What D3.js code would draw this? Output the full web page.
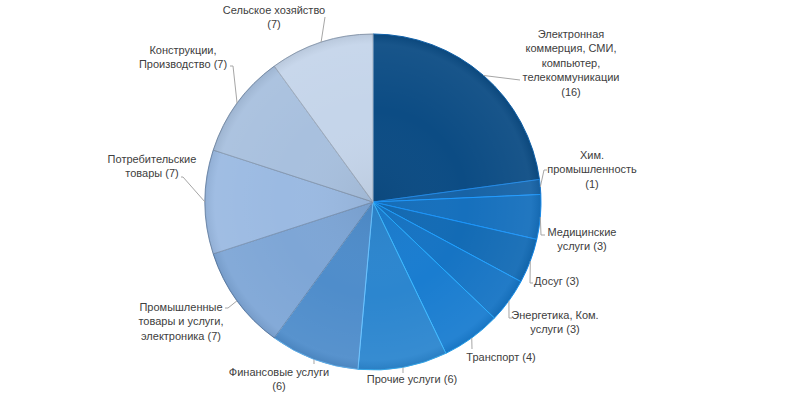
<!DOCTYPE html>
<html><head><meta charset="utf-8">
<script src="https://cdn.jsdelivr.net/npm/d3@7"></script>
<style>body{margin:0;background:#fff}svg{display:block}</style>
</head><body>
<svg id="chart" width="800" height="400"></svg>
<script>
// ---- data ----
const categories = ["Электронная коммерция, СМИ, компьютер, телекоммуникации","Хим. промышленность","Медицинские услуги","Досуг","Энергетика, Ком. услуги","Транспорт","Прочие услуги","Финансовые услуги","Промышленные товары и услуги, электроника","Потребительские товары","Конструкции, Производство","Сельское хозяйство"];
const values = [16,1,3,3,3,4,6,6,7,7,7,7];
// label line breaks; "" as last entry means the value goes on its own line
const labelBreaks = [
  ["Электронная","коммерция, СМИ,","компьютер,","телекоммуникации",""],
  ["Хим.","промышленность",""],
  ["Медицинские","услуги"],
  ["Досуг"],
  ["Энергетика, Ком.","услуги"],
  ["Транспорт"],
  ["Прочие услуги"],
  ["Финансовые услуги",""],
  ["Промышленные","товары и услуги,","электроника"],
  ["Потребительские","товары"],
  ["Конструкции,","Производство"],
  ["Сельское хозяйство",""]
];
const colors = ["#0c4c84","#1763a6","#1670bd","#136bb5","#1674c4","#1a7dd0","#2c86cf","#4f8dcb","#7ea6d6","#9bbae2","#a8c0de","#c5d5ea"];

// ---- layout (label anchors & leader elbows) ----
const layout = [
  {x:571,y:34, mid:[520,80], end:[520,80]},
  {x:592,y:155, mid:[544,170], end:[547,170]},
  {x:582,y:232, mid:[541,235], end:[545,235]},
  {x:534,y:281, anchor:"start", mid:[530,283], end:[533,283]},
  {x:555,y:315, mid:[509,318], end:[512,318]},
  {x:501,y:357, mid:[472,349], end:[472,349]},
  {x:412,y:379, mid:[403,373], end:[403,373]},
  {x:279,y:372, mid:[314,364], end:[314,364]},
  {x:181,y:307, mid:[228,308], end:[225,308]},
  {x:152,y:159, mid:[183,177], end:[181,177]},
  {x:183,y:50, mid:[233,66], end:[230,66]},
  {x:274,y:10, mid:[325,17], end:[325,17]}
];

const cx = 373, cy = 202, R = 168, lineH = 14.4;
const svg = d3.select("#chart");
const defs = svg.append("defs");
const rg = defs.append("radialGradient").attr("id","shade")
  .attr("gradientUnits","userSpaceOnUse").attr("cx",cx).attr("cy",cy).attr("r",R);
rg.append("stop").attr("offset","0%").attr("stop-color","#000").attr("stop-opacity",0.05);
rg.append("stop").attr("offset","55%").attr("stop-color","#fff").attr("stop-opacity",0.0);
rg.append("stop").attr("offset","94%").attr("stop-color","#fff").attr("stop-opacity",0.05);
rg.append("stop").attr("offset","100%").attr("stop-color","#000").attr("stop-opacity",0.06);

const pie = d3.pie().sort(null).value(d => d)(values);
const arc = d3.arc().innerRadius(0).outerRadius(R);
const g = svg.append("g").attr("transform",`translate(${cx},${cy})`);

g.selectAll("path.slice").data(pie).join("path").attr("class","slice")
  .attr("d", arc)
  .attr("fill", (d,i) => colors[i])
  .attr("stroke", (d,i) => { const c = d3.hsl(colors[i]); return c.l > 0.6 ? d3.color(colors[i]).darker(0.6) : d3.color(colors[i]).brighter(0.9); })
  .attr("stroke-width", 1)
  .attr("stroke-linejoin","round");

svg.append("circle").attr("cx",cx).attr("cy",cy).attr("r",R)
  .attr("fill","url(#shade)").attr("stroke","rgba(20,50,90,0.15)").attr("stroke-width",0.8);

// leader lines
const line = d3.line();
svg.selectAll("path.leader").data(pie).join("path").attr("class","leader")
  .attr("d", (d,i) => {
    const a = (d.startAngle + d.endAngle)/2;
    const p0 = [cx + R*Math.sin(a), cy - R*Math.cos(a)];
    return line([p0, layout[i].mid, layout[i].end]);
  })
  .attr("fill","none").attr("stroke","#a6a6a6").attr("stroke-width",1);

// labels
const labels = svg.selectAll("text.lbl").data(pie).join("text").attr("class","lbl")
  .attr("font-family","'Liberation Sans', Arial, sans-serif")
  .attr("font-size","11px").attr("fill","#404040")
  .attr("text-anchor",(d,i) => layout[i].anchor || "middle")
  .attr("dominant-baseline","central");
labels.each(function(d,i){
  const br = labelBreaks[i].slice();
  const v = "(" + values[i] + ")";
  if (br[br.length-1] === "") br[br.length-1] = v; else br[br.length-1] = br[br.length-1] + " " + v;
  d3.select(this).selectAll("tspan").data(br).join("tspan")
    .attr("x", layout[i].x).attr("y",(t,k) => layout[i].y + k*lineH).text(t => t);
});
</script>
</body></html>
